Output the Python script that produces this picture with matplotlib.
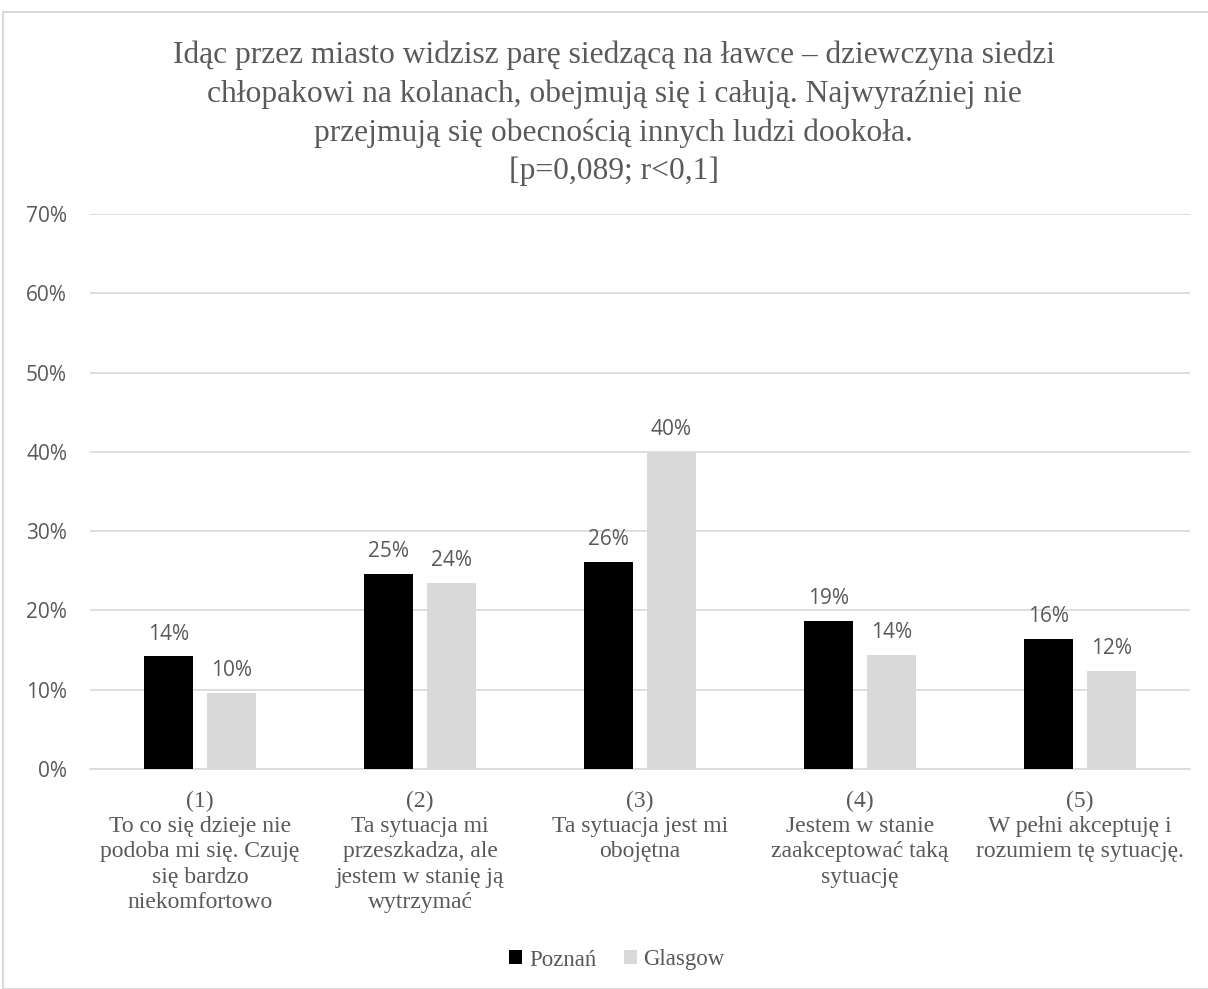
import numpy as np
import matplotlib.pyplot as plt
from matplotlib.patches import Rectangle

# dane z wykresu
kategorie = [
    "(1)\nTo co się dzieje nie\npodoba mi się. Czuję\nsię bardzo\nniekomfortowo",
    "(2)\nTa sytuacja mi\nprzeszkadza, ale\njestem w stanię ją\nwytrzymać",
    "(3)\nTa sytuacja jest mi\nobojętna",
    "(4)\nJestem w stanie\nzaakceptować taką\nsytuację",
    "(5)\nW pełni akceptuję i\nrozumiem tę sytuację.",
]
poznan = [14.2, 24.6, 26.1, 18.7, 16.4]
glasgow = [9.6, 23.5, 40.0, 14.4, 12.4]
serie = ["Poznań", "Glasgow"]
tytul = ("Idąc przez miasto widzisz parę siedzącą na ławce – dziewczyna siedzi\n"
         "chłopakowi na kolanach, obejmują się i całują. Najwyraźniej nie\n"
         "przejmują się obecnością innych ludzi dookoła.\n"
         "[p=0,089; r<0,1]")

szary = "#595959"
serif = ["Liberation Serif", "DejaVu Serif"]
sans = ["Open Sans", "DejaVu Sans"]

fig = plt.figure(figsize=(12.08, 9.89), dpi=100)
ax = fig.add_axes([90/1208, 1-769/989, 1100/1208, 555/989])

# ramka wykresu
fig.patches.append(Rectangle((3/1208, 0), 1, 1-12/989, transform=fig.transFigure,
                             fill=False, edgecolor="#d9d9d9", linewidth=1.5))

x = np.arange(len(kategorie))
w = 0.223
b1 = ax.bar(x - 0.143, poznan, w, color="black", label=serie[0], zorder=3)
b2 = ax.bar(x + 0.143, glasgow, w, color="#d9d9d9", label=serie[1], zorder=3)

# etykiety nad słupkami
for bars, vals in [(b1, poznan), (b2, glasgow)]:
    for r, v in zip(bars, vals):
        ax.text(r.get_x() + r.get_width()/2, v + 1.5, f"{v:.0f}%", ha="center",
                va="bottom", fontsize=15, color=szary, family=sans)

ax.set_ylim(0, 70)
ax.set_xlim(-0.5, 4.5)
ax.set_yticks(range(0, 71, 10))
ax.set_yticklabels([f"{t}%" for t in range(0, 71, 10)], family=sans, fontsize=15, color=szary)
ax.set_xticks(x)
ax.set_xticklabels(kategorie, family=serif, fontsize=17, color=szary, linespacing=1.27)
ax.tick_params(axis="both", length=0)
ax.tick_params(axis="y", pad=16.5)
ax.tick_params(axis="x", pad=15.5)
ax.grid(axis="y", color="#d9d9d9", linewidth=1.2, zorder=0)
for s in ["top", "right", "left"]:
    ax.spines[s].set_visible(False)
ax.spines["bottom"].set_color("#d9d9d9")
ax.spines["bottom"].set_linewidth(1.2)

fig.text(614/1208, 1-41/989, tytul, ha="center", va="top", family=serif, fontsize=22.7,
         color=szary, linespacing=1.4)

leg = fig.legend(loc="center", bbox_to_anchor=(617/1208, 1-960/989), ncol=2, frameon=False,
                 prop={"family": serif, "size": 16.5}, handlelength=0.57, handleheight=0.57,
                 handletextpad=0.3, columnspacing=1.18)
for t in leg.get_texts():
    t.set_color(szary)

fig.savefig("out.png", dpi=100)
